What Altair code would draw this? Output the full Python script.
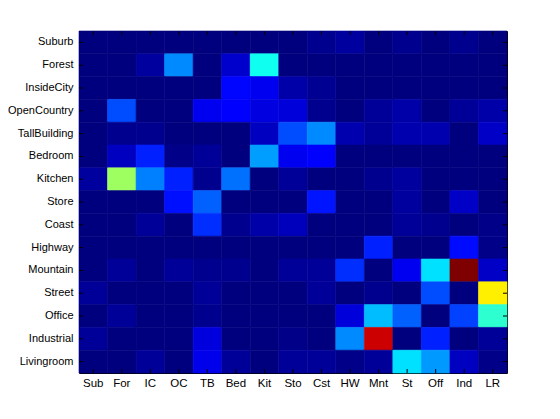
import altair as alt
import pandas as pd

rows = ["Suburb", "Forest", "InsideCity", "OpenCountry", "TallBuilding", "Bedroom",
        "Kitchen", "Store", "Coast", "Highway", "Mountain", "Street", "Office",
        "Industrial", "Livingroom"]
cols = ["Sub", "For", "IC", "OC", "TB", "Bed", "Kit", "Sto", "Cst", "HW", "Mnt",
        "St", "Off", "Ind", "LR"]

r_suburb = [0, 0, 0, 0, 0, 0, 0, 0, 1.6, 3, 0, 1.6, 0, 1.6, 0]
r_forest = [0, 0, 3, 26, 0, 7.5, 39, 0, 0, 0, 0, 0, 0, 0, 0]
r_insidecity = [0, 0, 0, 0, 0, 13, 11, 4, 2, 0, 0, 0, 0, 0, 0]
r_opencountry = [0, 20, 0, 0, 11, 12.5, 9.5, 9, 1.6, 0, 2.5, 4, 0, 2.5, 4]
r_tallbuilding = [0, 1.6, 1.6, 0, 0, 0, 6.3, 20, 26, 4.7, 2.5, 4.7, 4.7, 0, 7]
r_bedroom = [0, 6.3, 15.6, 1, 2.5, 0, 28, 11, 12.5, 0, 0, 0, 0, 0, 0]
r_kitchen = [3, 53, 25, 15.6, 1.6, 23.5, 0, 2.5, 0, 0, 1.6, 3, 0, 0, 0]
r_store = [0, 0, 0, 14, 22, 0, 0, 0, 14.5, 0, 0, 3, 0, 7, 0]
r_coast = [0, 0, 2.5, 0, 17, 1.6, 4, 6, 0, 0, 0, 2.5, 1.6, 0, 1]
r_highway = [0, 0, 0, 0, 0, 0, 0, 0, 0, 0, 15.6, 0, 0, 13.5, 1]
r_mountain = [0, 2.5, 0, 2.5, 1.6, 1.6, 0, 2.5, 2.5, 17, 0, 11, 34.5, 100, 7]
r_street = [2.5, 0, 0, 0, 2.5, 0, 0, 0, 2.5, 0, 1.6, 0, 20, 0, 64]
r_office = [0, 2.5, 0, 0, 1.6, 0, 0, 0, 0, 9, 31, 22, 0, 19, 42]
r_industrial = [2.5, 0, 0, 0, 9.4, 0, 0, 1, 0, 26, 92.5, 0, 15.6, 0, 2.5]
r_livingroom = [0, 0, 2.5, 0, 10.5, 2.5, 0, 2.5, 2.5, 1, 2.5, 34.5, 27.5, 6.3, 1]

matrix = [r_suburb, r_forest, r_insidecity, r_opencountry, r_tallbuilding, r_bedroom,
          r_kitchen, r_store, r_coast, r_highway, r_mountain, r_street, r_office,
          r_industrial, r_livingroom]

records = []
for i, rname in enumerate(rows):
    for j, cname in enumerate(cols):
        records.append({"row": rname, "col": cname, "value": matrix[i][j]})
df = pd.DataFrame(records)
df_cols = pd.DataFrame({"col": cols})
df_rows = pd.DataFrame({"row": rows})

W, H = 428, 342
font = "Liberation Sans"

jet_domain = [0, 12.5, 37.5, 62.5, 87.5, 100]
jet_range = ["#00007F", "#0000FF", "#00FFFF", "#FFFF00", "#FF0000", "#7F0000"]
jet_scale = alt.Scale(domain=jet_domain, range=jet_range, interpolate="rgb")

xenc = alt.X("col:O", sort=cols, title=None,
             scale=alt.Scale(paddingInner=0, paddingOuter=0),
             axis=alt.Axis(ticks=False, domain=False, grid=False, labelAngle=0,
                           labelFont=font, labelFontSize=11.5, labelColor="black",
                           labelPadding=4))
yenc = alt.Y("row:O", sort=rows, title=None,
             scale=alt.Scale(paddingInner=0, paddingOuter=0),
             axis=alt.Axis(ticks=False, domain=False, grid=False, labelFont=font,
                           labelFontSize=11, labelColor="black", labelPadding=6))

heat = alt.Chart(df).mark_rect(strokeWidth=0.6).encode(
    x=xenc, y=yenc,
    color=alt.Color("value:Q", legend=None, scale=jet_scale),
    stroke=alt.Stroke("value:Q", legend=None, scale=jet_scale),
)

tk = 4
top_ticks = alt.Chart(df_cols).mark_rule(color="black", strokeWidth=1).encode(
    x=alt.X("col:O", sort=cols), y=alt.value(0), y2=alt.value(tk))
bot_ticks = alt.Chart(df_cols).mark_rule(color="black", strokeWidth=1).encode(
    x=alt.X("col:O", sort=cols), y=alt.value(H), y2=alt.value(H - tk))
left_ticks = alt.Chart(df_rows).mark_rule(color="black", strokeWidth=1).encode(
    y=alt.Y("row:O", sort=rows), x=alt.value(0), x2=alt.value(tk))
right_ticks = alt.Chart(df_rows).mark_rule(color="black", strokeWidth=1).encode(
    y=alt.Y("row:O", sort=rows), x=alt.value(W), x2=alt.value(W - tk))

chart = alt.layer(heat, top_ticks, bot_ticks, left_ticks, right_ticks).properties(
    width=W, height=H,
    autosize=alt.AutoSizeParams(type="none"),
    padding={"left": 71, "top": 23, "right": 20, "bottom": 30},
    background="white",
).configure_view(stroke="black", strokeWidth=1).configure_axis(grid=False)

chart.save("out.html", embed_options={"renderer": "svg", "actions": False})
